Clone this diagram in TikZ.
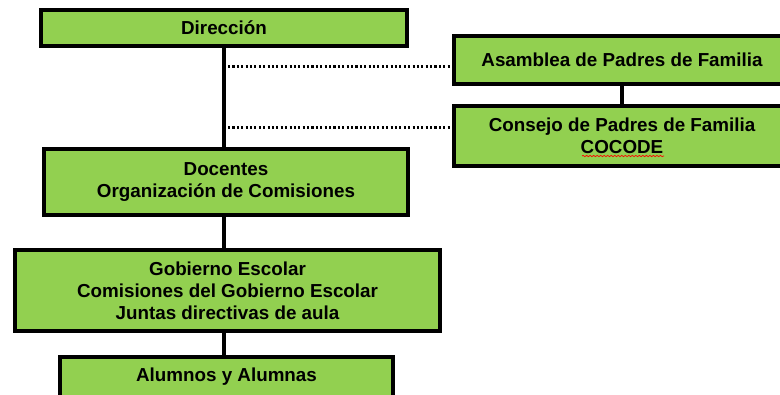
\documentclass[tikz,border=0pt]{standalone}
\usepackage{fontspec}
\setmainfont{Liberation Sans}
\usetikzlibrary{positioning,decorations.pathmorphing}

\definecolor{boxgreen}{HTML}{92D050}

\tikzset{
    orgbox/.style={draw=black, fill=boxgreen, line width=0.08cm, align=center,
        inner sep=0pt, font=\fontsize{10.7}{12.6}\selectfont\bfseries},
    link/.style={line width=0.09cm},
    dotlink/.style={line width=1.2pt, dash pattern=on 1.2pt off 1.3pt}
}

\begin{document}
\begin{tikzpicture}
    \useasboundingbox (0,0) rectangle (15.6,-7.88);
    \clip (0,0) rectangle (15.6,-7.88);

    % Left column
    \node[orgbox, minimum width=7.32cm, minimum height=0.72cm] (dir) at (4.48,-0.56) {Dirección};
    \node[orgbox, minimum width=7.28cm, minimum height=1.32cm] (doc) at (4.52,-3.64) {Docentes\\Organización de Comisiones};
    \node[orgbox, minimum width=8.50cm, minimum height=1.62cm] (gob) at (4.55,-5.81) {Gobierno Escolar\\Comisiones del Gobierno Escolar\\Juntas directivas de aula};
    \node[orgbox, minimum width=6.66cm, minimum height=0.80cm] (alum) at (4.53,-7.54) {Alumnos y Alumnas};

    % Right column
    \node[orgbox, minimum width=6.72cm, minimum height=0.96cm] (asam) at (12.44,-1.20) {Asamblea de Padres de Familia};
    \node[orgbox, minimum width=6.72cm, minimum height=1.20cm] (cons) at (12.44,-2.72) {Consejo de Padres de Familia\\COCODE};
    \draw[red, line width=0.4pt, decorate, decoration={snake, amplitude=0.35pt, segment length=2pt}]
        (11.64,-3.12) -- (13.28,-3.12);

    % Connectors
    \draw[link] (dir.south -| 4.48,0) -- (doc.north -| 4.48,0);
    \draw[link] (doc.south -| 4.48,0) -- (gob.north -| 4.48,0);
    \draw[link] (gob.south -| 4.48,0) -- (alum.north -| 4.48,0);
    \draw[link] (asam.south) -- (cons.north);

    % Dotted links
    \coordinate (p1) at (4.56,-1.33);
    \coordinate (p2) at (4.56,-2.55);
    \draw[dotlink] (p1) -- (p1 -| asam.west);
    \draw[dotlink] (p2) -- (p2 -| cons.west);
\end{tikzpicture}
\end{document}
